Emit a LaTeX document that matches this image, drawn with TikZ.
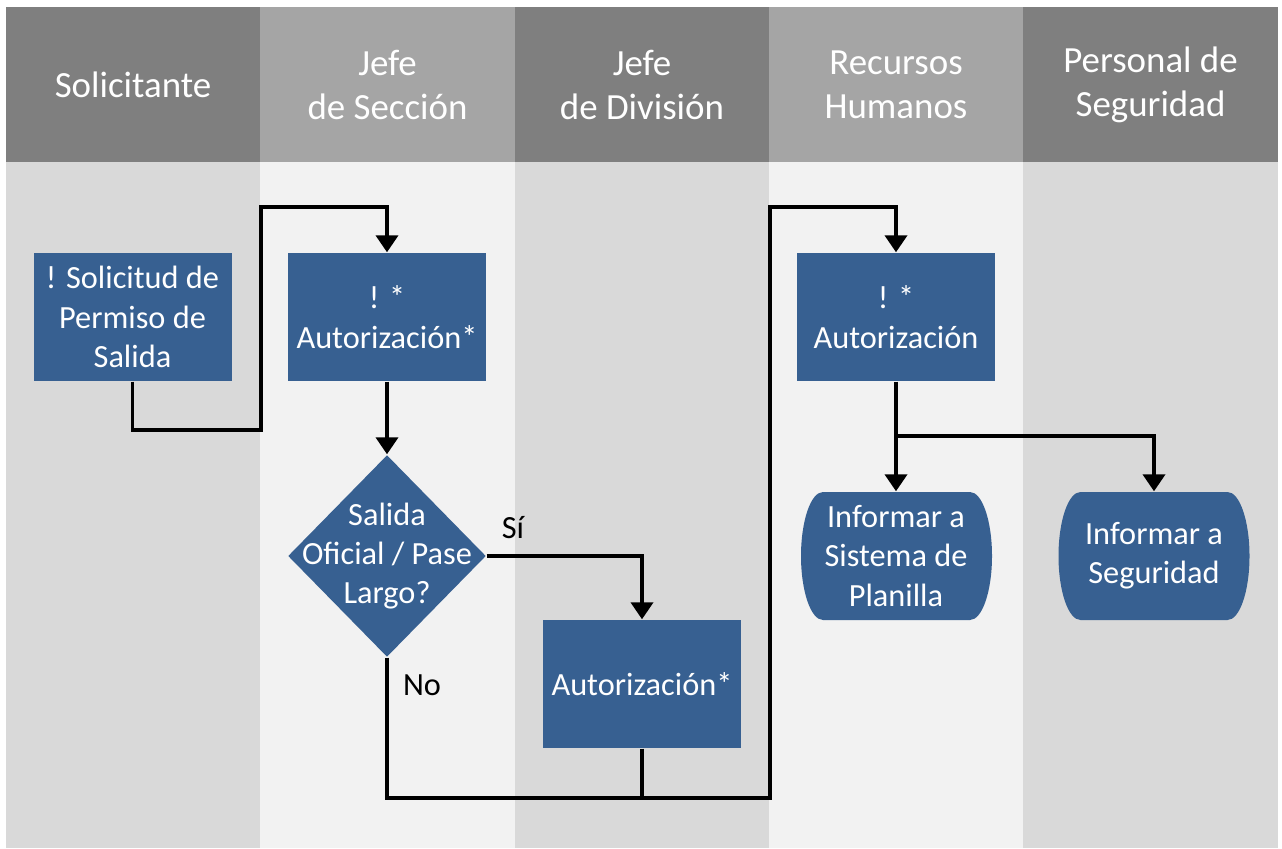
\documentclass[tikz,border=0pt]{standalone}
\usepackage{fontspec}
\setmainfont{Carlito}
\usetikzlibrary{shapes.geometric,arrows.meta}

\definecolor{hdrdark}{RGB}{127,127,127}
\definecolor{hdrlight}{RGB}{165,165,165}
\definecolor{lanedark}{RGB}{217,217,217}
\definecolor{lanelight}{RGB}{242,242,242}
\definecolor{boxblue}{RGB}{55,96,145}

\tikzset{
  txt/.style={text=white, align=center, inner sep=0pt, font=\fontsize{9.2}{11.2}\selectfont},
  proc/.style={txt, rectangle, fill=boxblue, minimum width=1.98cm, minimum height=1.28cm},
  decision/.style={diamond, fill=boxblue, minimum width=1.98cm, minimum height=2.02cm, inner sep=0pt},
  term/.style={txt, minimum width=1.91cm, minimum height=1.28cm},
  hdr/.style={text=white, align=center, font=\fontsize{10.5}{12.5}\selectfont},
  answer/.style={font=\fontsize{9.2}{11.2}\selectfont},
  link/.style={line width=1.1pt},
  flow/.style={link, -{Triangle[width=0.22cm,length=0.17cm]}},
}

\begin{document}
\begin{tikzpicture}
\useasboundingbox (0,0) rectangle (12.82,8.48);

% Lanes
\foreach \l/\r/\h/\b in {0.06/2.60/hdrdark/lanedark, 2.60/5.15/hdrlight/lanelight,
    5.15/7.69/hdrdark/lanedark, 7.69/10.23/hdrlight/lanelight, 10.23/12.78/hdrdark/lanedark}{
  \fill[\b] (\l,0) rectangle (\r,6.86);
  \fill[\h] (\l,6.86) rectangle (\r,8.41);
}

% Lane titles
\node[hdr] (h1) at (1.33,7.63) {Solicitante};
\node[hdr] (h2) at (3.875,7.63) {Jefe\\de Sección};
\node[hdr] (h3) at (6.42,7.63) {Jefe\\de División};
\node[hdr] (h4) at (8.96,7.63) {Recursos\\Humanos};
\node[hdr] (h5) at (11.505,7.63) {Personal de\\Seguridad};

% Boxes
\node[proc] (sol) at (1.325,5.31) {! Solicitud de\\Permiso de\\Salida};
\node[proc] (jsa) at (3.87,5.31) {! *\\Autorización*};
\node[decision] (dec) at (3.87,2.92) {};
\node[txt] (dect) at (dec) {Salida\\Oficial / Pase\\Largo?};
\node[proc] (jda) at (6.42,1.64) {Autorización*};
\node[proc] (rha) at (8.96,5.31) {! *\\Autorización};

% Terminal shapes
\foreach \cx in {8.965,11.54}
  \fill[boxblue] (\cx-0.735,3.56) -- (\cx+0.735,3.56)
    arc[start angle=90, end angle=-90, x radius=0.22, y radius=0.64]
    -- (\cx-0.735,2.28)
    arc[start angle=270, end angle=90, x radius=0.22, y radius=0.64] -- cycle;
\node[term] (inp) at (8.96,2.92) {Informar a\\Sistema de\\Planilla};
\node[term] (ins) at (11.54,2.92) {Informar a\\Seguridad};

% Bends
\coordinate (b1) at (2.61,4.18);
\coordinate (b2) at (2.61,6.41);
\coordinate (b3) at (7.70,0.50);
\coordinate (b4) at (7.70,6.41);
\coordinate (b5) at (8.96,4.12);

% Connectors
\draw[flow] (sol.south) |- (b1) -- (b2) -| (jsa.north);
\draw[flow] (jsa.south) -- (dec.north);
\draw[flow] (dec.east) -| (jda.north);
\draw[flow] (dec.south) |- (b3) -- (b4) -| (rha.north);
\draw[link] (jda.south) -- (jda.south |- b3);
\draw[flow] (rha.south) -- (inp.north);
\draw[flow] (b5) -| (ins.north);

% Answers
\node[answer] (yes) at (5.13,3.20) {Sí};
\node[answer] (no) at (4.22,1.63) {No};

\end{tikzpicture}
\end{document}
